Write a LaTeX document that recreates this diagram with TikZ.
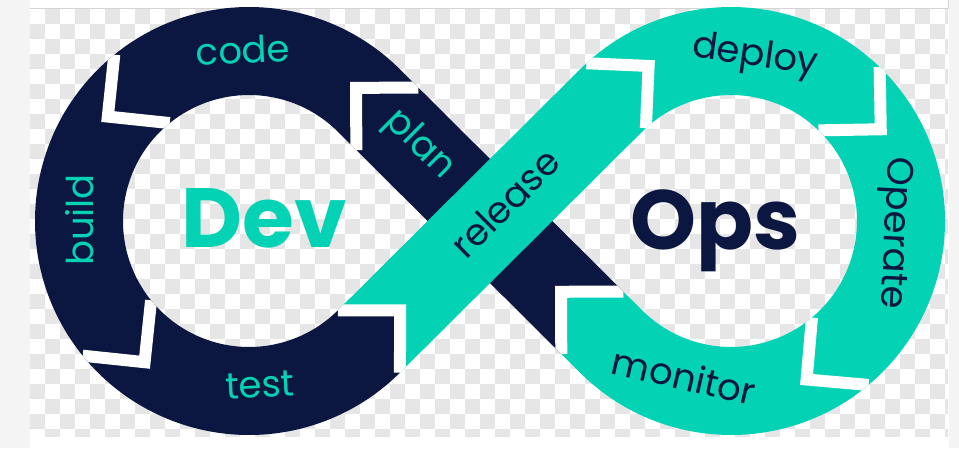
\documentclass[tikz,border=0pt]{standalone}
\usepackage{fontspec}
\setmainfont{Poppins}
\usetikzlibrary{calc}
\definecolor{devnavy}{HTML}{0B1741}
\definecolor{opsteal}{HTML}{03D3B4}
\definecolor{chkgray}{HTML}{E6E6E6}
\definecolor{framegray}{HTML}{F4F4F4}
\definecolor{edgegray}{HTML}{D4D4D4}

\tikzset{
  lab/.style={font=\fontsize{37}{37}\selectfont, inner sep=0pt},
  bigword/.style={font=\fontsize{84}{84}\selectfont\bfseries, inner sep=0pt, anchor=base},
  gapline/.style={draw=white, line width=12pt, line join=miter}
}

\def\rOut{214}
\def\rIn{126}
\def\rMid{170}
\def\hw{44}
\def\tang{45.14}
\def\tangb{314.86}

% joint on the left loop (flow counter-clockwise)
\newcommand\ljoint[2]{%
  \coordinate (#1a) at ($(cL)+(#2:\rOut)$);
  \coordinate (#1c) at ($(cL)+(#2:\rIn)$);
  \coordinate (#1b) at ($(cL)+(#2:\rMid)+(#2+90:\hw)$);}
% joint on the right loop (flow clockwise)
\newcommand\rjoint[2]{%
  \coordinate (#1a) at ($(cR)+(#2:\rOut)$);
  \coordinate (#1c) at ($(cR)+(#2:\rIn)$);
  \coordinate (#1b) at ($(cR)+(#2:\rMid)+(#2-90:\hw)$);}

\begin{document}
\begin{tikzpicture}[x=1pt,y=1pt]
\useasboundingbox (0,0) rectangle (959,448);

% screenshot frame and checkerboard
\fill[white] (0,0) rectangle (959,448);
\fill[framegray] (0,0) rectangle (30,448);
\fill[framegray] (949,0) rectangle (959,448);
\draw[edgegray] (30,439.5) -- (948.5,439.5) -- (948.5,448);
\begin{scope}
  \clip (30,12) rectangle (948,439);
  \foreach \i in {0,...,61}{\foreach \j in {0,...,28}{
    \pgfmathtruncatemacro\chkodd{mod(\i+\j,2)}
    \ifnum\chkodd=1 \fill[chkgray] (30+15*\i,439-15*\j) rectangle ++(15,-15); \fi}}
\end{scope}

% loop centres and the ends of the plan band
\coordinate (cL) at (249,227);
\coordinate (cR) at (731,227);
\coordinate (PL) at ($(cL)+(\tang:\rMid)$);
\coordinate (PR) at ($(cR)+(180+\tang:\rMid)$);

% joints
\coordinate (j1p) at ($(PL)+(\tang-90:26)$);
\coordinate (j1a) at ($(j1p)+(\tang:\hw)$);
\coordinate (j1c) at ($(j1p)+(\tang+180:\hw)$);
\coordinate (j1b) at ($(j1p)+(\tang+90:\hw)$);
\ljoint{j2}{129}
\ljoint{j3}{219}
\ljoint{j4}{\tangb}
\rjoint{j5}{132.5}
\rjoint{j6}{46}
\rjoint{j7}{-50}
\coordinate (j8p) at ($(PR)+(\tang+90:26.5)$);
\coordinate (j8a) at ($(j8p)+(\tang+180:\hw)$);
\coordinate (j8c) at ($(j8p)+(\tang:\hw)$);
\coordinate (j8b) at ($(j8p)+(\tang+90:\hw)$);

% segments
\def\segcode{(j1b) -- (j1a) -- ($(cL)+(\tang:\rOut)$) arc[start angle=\tang, end angle=129, radius=\rOut] -- (j2b) -- (j2c) arc[start angle=129, end angle=\tang, radius=\rIn] -- (j1c) -- cycle}
\def\segbuild{(j2b) -- (j2a) arc[start angle=129, end angle=219, radius=\rOut] -- (j3b) -- (j3c) arc[start angle=219, end angle=129, radius=\rIn] -- cycle}
\def\segtest{(j3b) -- (j3a) arc[start angle=219, end angle=\tangb, radius=\rOut] -- (j4b) -- (j4c) arc[start angle=\tangb, end angle=219, radius=\rIn] -- cycle}
\def\segrelease{(j4b) -- (j4a) -- ($(cR)+(180-\tang:\rIn)$) arc[start angle=180-\tang, end angle=132.5, radius=\rIn] -- (j5b) -- (j5a) arc[start angle=132.5, end angle=180-\tang, radius=\rOut] -- (j4c) -- cycle}
\def\segdeploy{(j5b) -- (j5a) arc[start angle=132.5, end angle=46, radius=\rOut] -- (j6b) -- (j6c) arc[start angle=46, end angle=132.5, radius=\rIn] -- cycle}
\def\segoperate{(j6b) -- (j6a) arc[start angle=46, end angle=-50, radius=\rOut] -- (j7b) -- (j7c) arc[start angle=-50, end angle=46, radius=\rIn] -- cycle}
\def\segmonitor{(j7b) -- (j7a) arc[start angle=-50, end angle=\tang-180, radius=\rOut] -- (j8a) -- (j8b) -- (j8c) -- ($(cR)+(\tang-180:\rIn)$) arc[start angle=\tang-180, end angle=-50, radius=\rIn] -- cycle}
\def\segplan{(j8b) -- (j8a) -- (j1c) -- (j1b) -- (j1a) -- (j8c) -- cycle}

\fill[devnavy] \segcode;
\fill[devnavy] \segbuild;
\fill[devnavy] \segtest;
\fill[opsteal] \segdeploy;
\fill[opsteal] \segoperate;
\fill[opsteal] \segmonitor;
\fill[devnavy] \segplan;
\fill[opsteal] \segrelease;

% white gaps between the steps
\begin{scope}[even odd rule]
  \clip \segcode \segbuild \segtest \segrelease \segdeploy \segoperate \segmonitor \segplan;
  \foreach \j in {j1,j2,j3,j4,j5,j6,j7,j8}
    \draw[gapline] (\j a) -- (\j b) -- (\j c);
\end{scope}

% labels
\node[lab, text=opsteal, rotate=3] (code) at (243,398) {code};
\node[lab, text=opsteal, rotate=-44.86] (plan) at (419,303) {plan};
\node[lab, text=opsteal, rotate=90] (build) at (80,228) {build};
\node[lab, text=opsteal, rotate=3] (test) at (260,63) {test};
\node[lab, text=devnavy, rotate=44.86] (release) at (505,245) {release};
\node[lab, text=devnavy, rotate=-8] (deploy) at (755,391) {deploy};
\node[lab, text=devnavy, rotate=-93] (operate) at (893,215) {Operate};
\node[lab, text=devnavy, rotate=-13] (monitor) at (684,72) {monitor};

\node[bigword, text=opsteal] (dev) at (264,201) {Dev};
\node[bigword, text=devnavy] (ops) at (715,199) {Ops};
\end{tikzpicture}
\end{document}
